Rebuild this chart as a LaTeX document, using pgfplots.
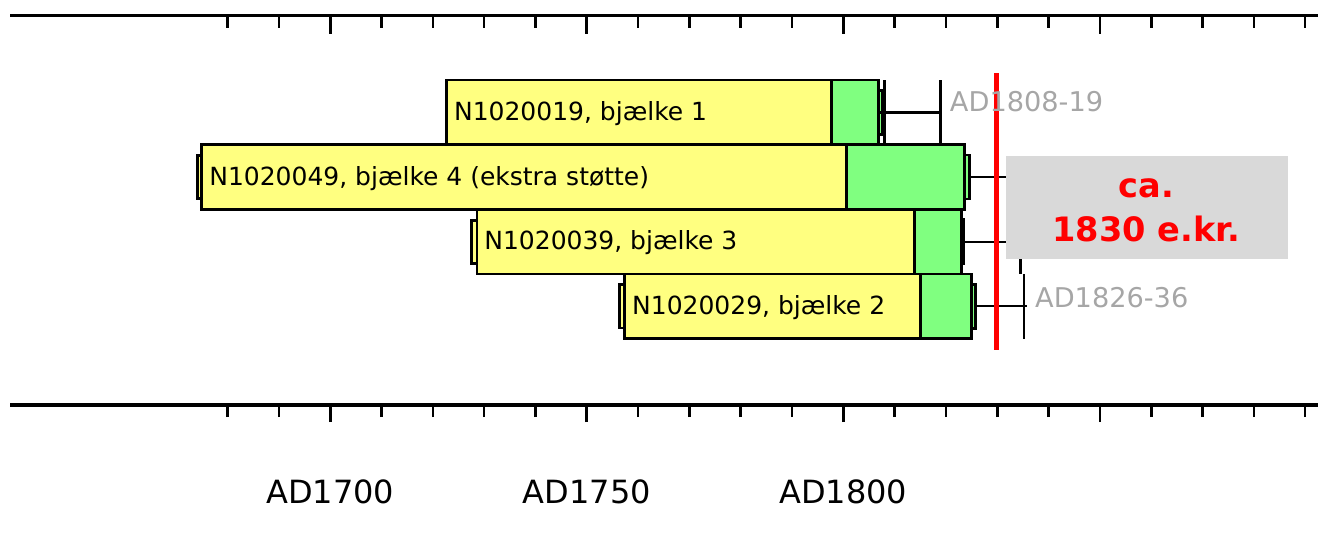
\documentclass[border=0pt]{standalone}
\usepackage{pgfplots}
\pgfplotsset{compat=1.18}
\usepackage{pgfplotstable}
\usepackage{fontspec}
\setmainfont{DejaVu Sans}

\definecolor{heart}{HTML}{FFFF80}
\definecolor{sapw}{HTML}{80FF80}
\definecolor{boxgray}{HTML}{D9D9D9}
\definecolor{labgray}{HTML}{A6A6A6}

% one row per beam (years AD); y = row centre
% pith: pith marker, start: first ring, sap: sapwood start,
% last: last ring, wane: end of the edge marker
\pgfplotstableread{
y      pith    start   sap     last    wane
292.7  1722.7  1722.7  1797.7  1806.8  1807.7
228.0  1674.1  1675.0  1800.6  1823.6  1824.6
163.3  1727.6  1728.6  1813.9  1823.0  1823.5
98.7   1756.4  1757.4  1815.1  1824.9  1825.7
}\beams

\pgfplotsset{
  timeline/.style={
    scale only axis, width=654bp, height=195bp,
    at={(5bp,64bp)}, anchor=south west,
    xmin=1637.6, xmax=1892.5, ymin=0, ymax=390,
    hide y axis,
    axis line style={line width=1.5bp},
    tick style={line width=1.3bp, black},
    xtick={1700,1750,1800,1850},
    minor xtick={1680,1690,...,1890},
  },
  beam/.style={draw=black, line width=1.45bp},
}

\begin{document}
\begin{tikzpicture}
\begin{axis}[timeline,
  xtick pos=bottom, tick align=outside,
  major tick length=8.5bp, minor tick length=6bp,
  xticklabels={AD1700,AD1750,AD1800,},
  xticklabel style={font=\fontsize{16bp}{19bp}\selectfont, anchor=base, yshift=-40.8bp},
  xbar stacked, bar width=64.67]
  \addplot[draw=none, fill=none] table[x=pith, y=y] \beams;
  \addplot[beam, fill=heart, bar width=43.3] table[x expr=\thisrow{start}-\thisrow{pith}, y=y] \beams;
  \addplot[beam, fill=heart] table[x expr=\thisrow{sap}-\thisrow{start}, y=y] \beams;
  \addplot[beam, fill=sapw] table[x expr=\thisrow{last}-\thisrow{sap}, y=y] \beams;
  \addplot[beam, fill=sapw, bar width=44] table[x expr=\thisrow{wane}-\thisrow{last}, y=y] \beams;
\end{axis}

\begin{axis}[timeline,
  xtick pos=top, tick align=inside,
  major tick length=9.5bp, minor tick length=6.5bp,
  xticklabels={}, unbounded coords=jump]
  % felling date brackets
  \addplot[black, line width=1.2bp] coordinates {
    (1807.2,292.7) (1818.6,292.7) (1818.6,nan)
    (1808.0,260.3) (1808.0,325.0) (1808.0,nan)
    (1818.9,260.3) (1818.9,325.0) (1818.9,nan)
    (1824.6,228.0) (1834.0,228.0) (1834.0,nan)
    (1823.5,163.3) (1834.5,163.3) (1834.5,nan)
    (1834.5,131.0) (1834.5,195.7) (1834.5,nan)
    (1825.7,98.7)  (1835.7,98.7)  (1835.7,nan)
    (1835.2,66.3)  (1835.2,131.0)
  };
  \addplot[color=red, line width=2.65bp] coordinates {(1829.85,55) (1829.85,332)};

  \fill[boxgray] (axis cs:1831.6,146) rectangle (axis cs:1886.6,249);
  \node[text=red, font=\bfseries\fontsize{16.8bp}{22bp}\selectfont, align=center]
    at (axis cs:1859.0,195) {ca.\\1830 e.kr.};

  \begin{scope}[every node/.style={anchor=base west, inner sep=0pt,
      font=\fontsize{12.5bp}{15bp}\selectfont}]
    \node[xshift=3.5bp] at (axis cs:1722.7,284.7) {N1020019, bjælke 1};
    \node[xshift=3.5bp] at (axis cs:1675.0,220.0) {N1020049, bjælke 4 (ekstra støtte)};
    \node[xshift=3.5bp] at (axis cs:1728.6,155.3) {N1020039, bjælke 3};
    \node[xshift=3.5bp] at (axis cs:1757.4,90.7) {N1020029, bjælke 2};
  \end{scope}
  \begin{scope}[every node/.style={anchor=base west, inner sep=0pt, text=labgray,
      font=\fontsize{13.6bp}{16bp}\selectfont}]
    \node at (axis cs:1820.7,293.3) {AD1808-19};
    \node at (axis cs:1837.3,98.0) {AD1826-36};
  \end{scope}
\end{axis}
\pgfresetboundingbox
\path[use as bounding box] (0,0) rectangle (659bp,266.5bp);
\end{tikzpicture}
\end{document}
